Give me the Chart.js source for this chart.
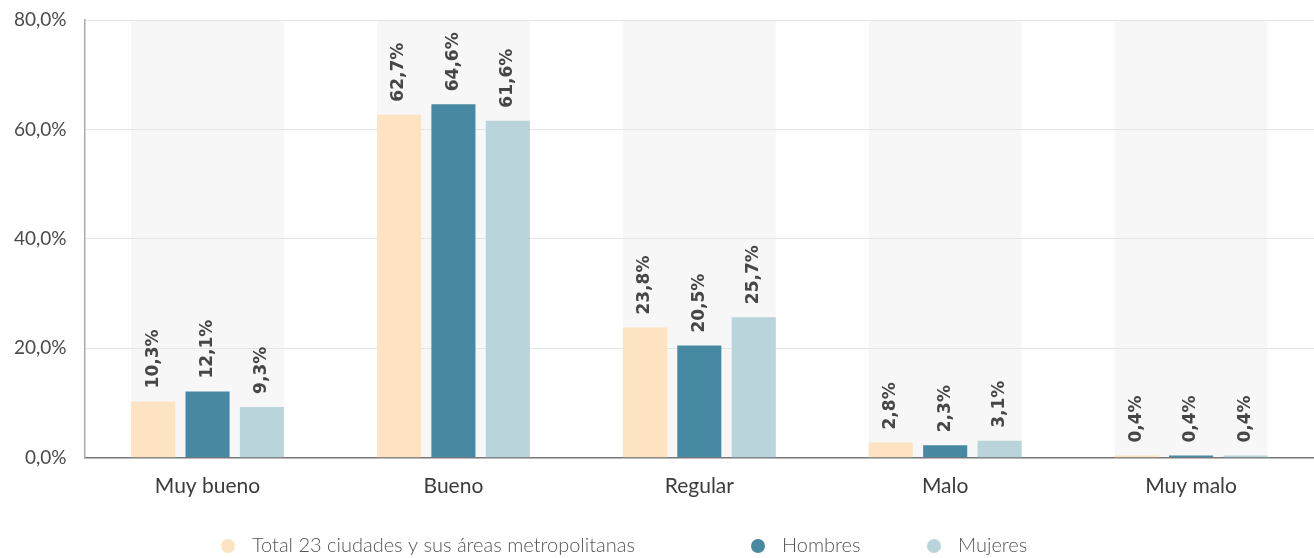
<!DOCTYPE html>
<html>
<head>
<meta charset="utf-8">
<script src="https://cdn.jsdelivr.net/npm/chart.js@4/dist/chart.umd.min.js"></script>
<style>
  html, body { margin: 0; padding: 0; background: #ffffff; }
  #wrap { width: 1314px; height: 558px; position: relative; }
</style>
</head>
<body>
<div id="wrap"><canvas id="chart" width="1314" height="558"></canvas></div>
<script>
// Self-rated state, share of respondents per answer
const categories = ["Muy bueno", "Bueno", "Regular", "Malo", "Muy malo"];
const seriesNames = ["Total 23 ciudades y sus áreas metropolitanas", "Hombres", "Mujeres"];
const totalValues = [10.3, 62.7, 23.8, 2.8, 0.4];
const menValues = [12.1, 64.6, 20.5, 2.3, 0.4];
const womenValues = [9.3, 61.6, 25.7, 3.1, 0.4];
const yTicks = [0, 20, 40, 60, 80];

const colors = ["#fde3c1", "#4789a2", "#b9d4db"];

// Legend layout: marker centres along the bottom row
const legendMarkerX = [228, 758, 934];
const legendY = 546;

function fmt(v) {
  return v.toFixed(1).replace(".", ",") + "%";
}

// Light grey panel behind each category's group of bars
const groupBands = {
  id: "groupBands",
  beforeDraw(chart) {
    const { ctx, chartArea } = chart;
    const metas = chart.data.datasets.map((d, i) => chart.getDatasetMeta(i));
    ctx.save();
    ctx.fillStyle = "#f7f7f7";
    categories.forEach((c, idx) => {
      let left = Infinity, right = -Infinity;
      metas.forEach(m => {
        const el = m.data[idx];
        if (!el) return;
        const p = el.getProps(["x", "width"], true);
        left = Math.min(left, p.x - p.width / 2);
        right = Math.max(right, p.x + p.width / 2);
      });
      if (isFinite(left)) {
        ctx.fillRect(left, chartArea.top, right - left, chartArea.bottom - chartArea.top);
      }
    });
    ctx.restore();
  }
};

// Vertical value labels above every bar
const barLabels = {
  id: "barLabels",
  afterDatasetsDraw(chart) {
    const { ctx } = chart;
    ctx.save();
    ctx.fillStyle = "#464646";
    ctx.font = "bold 17px 'DejaVu Sans'";
    ctx.textAlign = "left";
    ctx.textBaseline = "middle";
    chart.data.datasets.forEach((ds, di) => {
      const meta = chart.getDatasetMeta(di);
      meta.data.forEach((el, i) => {
        const p = el.getProps(["x", "y"], true);
        ctx.save();
        ctx.translate(p.x, p.y - 13);
        ctx.rotate(-Math.PI / 2);
        ctx.fillText(fmt(ds.data[i]), 0, 0);
        ctx.restore();
      });
    });
    ctx.restore();
  }
};

// Series legend along the bottom, round markers
const bottomLegend = {
  id: "bottomLegend",
  afterDraw(chart) {
    const { ctx } = chart;
    ctx.save();
    ctx.font = "300 20px Lato";
    ctx.textAlign = "left";
    ctx.textBaseline = "middle";
    chart.data.datasets.forEach((ds, i) => {
      const x = legendMarkerX[i];
      ctx.fillStyle = ds.backgroundColor;
      ctx.beginPath();
      ctx.arc(x, legendY, 7, 0, Math.PI * 2);
      ctx.fill();
      ctx.fillStyle = "#555555";
      ctx.fillText(ds.label, x + 24, legendY);
    });
    ctx.restore();
  }
};

new Chart(document.getElementById("chart"), {
  type: "bar",
  data: {
    labels: categories,
    datasets: [
      { label: seriesNames[0], data: totalValues, backgroundColor: colors[0] },
      { label: seriesNames[1], data: menValues, backgroundColor: colors[1] },
      { label: seriesNames[2], data: womenValues, backgroundColor: colors[2] }
    ]
  },
  options: {
    responsive: false,
    animation: false,
    layout: { padding: { top: -6, right: 0, left: -4, bottom: 43 } },
    datasets: {
      bar: { categoryPercentage: 0.664, barPercentage: 0.81 }
    },
    scales: {
      x: {
        grid: { display: false, drawTicks: false },
        border: { color: "#777777", width: 1.5 },
        ticks: {
          color: "#3c3c3c",
          padding: 16,
          font: { family: "Lato", size: 21 }
        }
      },
      y: {
        min: 0,
        max: 80,
        afterBuildTicks(axis) {
          axis.ticks = yTicks.map(v => ({ value: v }));
        },
        afterFit(axis) {
          axis.paddingTop = 20;
        },
        grid: { color: "#e4e4e4", drawTicks: false },
        border: { color: "#aaaaaa", width: 1.5 },
        ticks: {
          color: "#4a4a4a",
          padding: 18,
          font: { family: "Lato", size: 19 },
          callback: v => fmt(v)
        }
      }
    },
    plugins: {
      tooltip: { enabled: false },
      legend: { display: false }
    }
  },
  plugins: [groupBands, barLabels, bottomLegend]
});
</script>
</body>
</html>
